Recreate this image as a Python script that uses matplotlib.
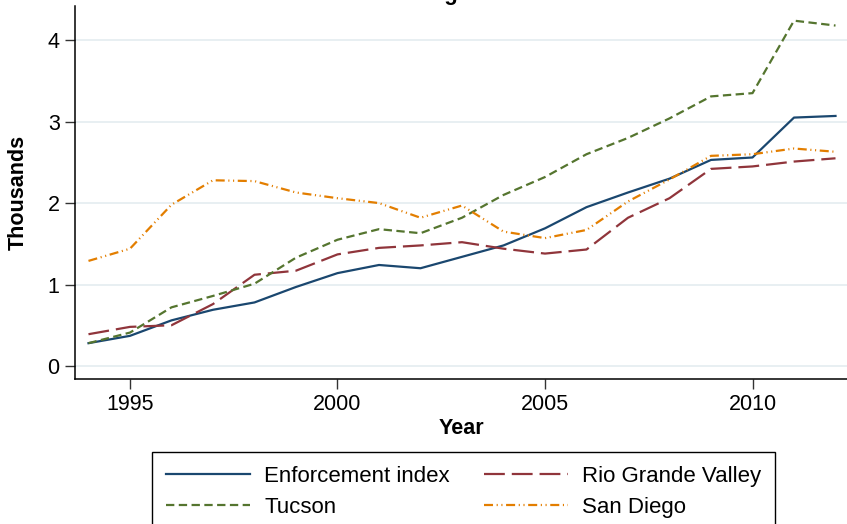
import matplotlib
matplotlib.use("Agg")
import matplotlib.pyplot as plt
from matplotlib.patches import Rectangle

plt.rcParams["font.family"] = ["Liberation Sans", "DejaVu Sans"]
plt.rcParams["lines.scale_dashes"] = False

years = list(range(1994, 2013))
enforcement_index = [0.28, 0.37, 0.56, 0.69, 0.78, 0.97, 1.14, 1.24, 1.20, 1.34,
                     1.48, 1.69, 1.95, 2.13, 2.30, 2.53, 2.56, 3.05, 3.07]
rio_grande_valley = [0.39, 0.48, 0.50, 0.76, 1.12, 1.17, 1.37, 1.45, 1.48, 1.52,
                     1.44, 1.38, 1.43, 1.82, 2.06, 2.42, 2.45, 2.51, 2.55]
tucson = [0.28, 0.41, 0.72, 0.86, 1.01, 1.33, 1.55, 1.68, 1.63, 1.82,
          2.10, 2.32, 2.60, 2.80, 3.04, 3.31, 3.35, 4.24, 4.18]
san_diego = [1.29, 1.44, 1.98, 2.28, 2.27, 2.13, 2.06, 2.00, 1.82, 1.97,
             1.65, 1.57, 1.67, 2.02, 2.29, 2.58, 2.60, 2.67, 2.63]

x_ticks = [1995, 2000, 2005, 2010]
y_ticks = [0, 1, 2, 3, 4]

NAVY = "#1a476f"
MAROON = "#90353b"
GREEN = "#55752f"
ORANGE = "#e37e00"
GRID = "#e8eff2"

W, H = 847, 524
fig = plt.figure(figsize=(W / 100, H / 100), dpi=100)
ax = fig.add_axes([75 / W, 1 - 379 / H, (W - 75) / W, 373 / H])

ax.plot(years, enforcement_index, color=NAVY, lw=1.6, label="Enforcement index")
ax.plot(years, rio_grande_valley, color=MAROON, lw=1.6, dashes=(15, 5),
        label="Rio Grande Valley")
ax.plot(years, tucson, color=GREEN, lw=1.6, dashes=(6, 3.2), label="Tucson")
ax.plot(years, san_diego, color=ORANGE, lw=1.6,
        dashes=(6.5, 2.6, 0.8, 2.6, 0.8, 2.6), label="San Diego")

ax.set_xlim(1993.675, 2012.277)
ax.set_ylim(-0.16, 4.42)
ax.set_xticks(x_ticks)
ax.set_yticks(y_ticks)
ax.yaxis.grid(True, color=GRID, lw=1.4)
ax.set_axisbelow(True)

for side in ("top", "right"):
    ax.spines[side].set_visible(False)
for side in ("left", "bottom"):
    ax.spines[side].set_linewidth(1.1)
    ax.spines[side].set_color("black")

ax.tick_params(axis="both", length=7, width=1.0, color="#333333",
               labelsize=15.5, pad=4)

ax.set_xlabel("Year", fontsize=15.5, fontweight="bold", labelpad=2)
ax.set_ylabel("Thousands", fontsize=15.5, fontweight="bold", labelpad=13.5)

fig.text(453 / W, 1.0, "Staffing trends", ha="center", va="baseline",
         fontsize=16, fontweight="bold")

# two columns filled column-wise, so rows read: Enforcement / Rio Grande, Tucson / San Diego
handles, labels = ax.get_legend_handles_labels()
order = [0, 2, 1, 3]
leg = fig.legend([handles[i] for i in order], [labels[i] for i in order],
                 loc="upper center", bbox_to_anchor=(463.4 / W, 1 - 456 / H),
                 ncol=2, fontsize=16, frameon=False,
                 handlelength=3.8, handletextpad=0.63, columnspacing=1.52,
                 borderpad=0.45, labelspacing=0.45, borderaxespad=0)

# legend frame, running past the bottom edge of the figure
fig.patches.append(Rectangle((151.5 / W, -0.05), (775 - 151.5) / W, 0.05 + 1 - 452 / H,
                             transform=fig.transFigure, fill=False,
                             edgecolor="black", linewidth=1.0))

fig.savefig("out.png", dpi=100)
